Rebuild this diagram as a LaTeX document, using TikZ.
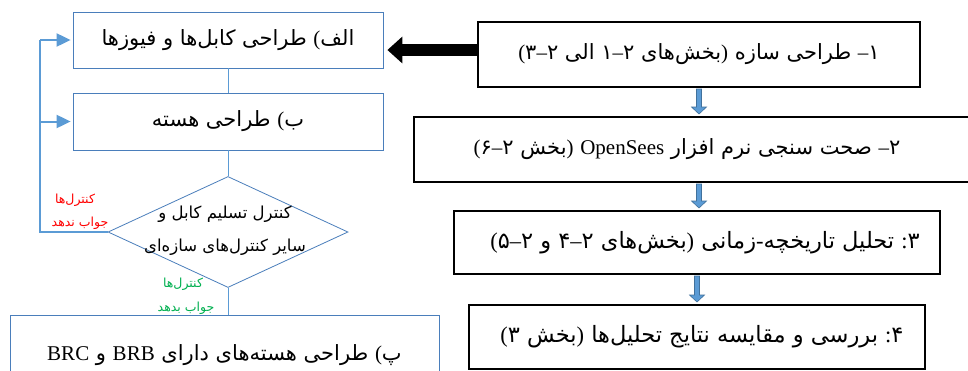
\documentclass[tikz,border=0pt]{standalone}
\usepackage{fontspec}
\setmainfont{Liberation Serif}
\newfontfamily\fa[Script=Arabic]{DejaVu Sans}
\usetikzlibrary{arrows.meta,shapes.geometric,calc}
\TeXXeTstate=1
\definecolor{boxblue}{HTML}{4A7EBB}
\definecolor{lineblue}{HTML}{5B9BD5}
\definecolor{arrdark}{HTML}{41719C}
\definecolor{yesgreen}{HTML}{00B050}
\definecolor{nored}{HTML}{FF0000}
\newcommand\LPg{\hbox{\rmfamily(}}
\newcommand\RPg{\hbox{\rmfamily)}}
\newcommand\pn[2]{\hbox{\fa #1\rmfamily--\fa #2}}
\newcommand\mainsz{\fontsize{21}{25}\selectfont}
\newcommand\bigsz{\fontsize{22.5}{27}\selectfont}
\newcommand\diasz{\fontsize{16.5}{33}\selectfont}
\newcommand\smallsz{\fontsize{12.5}{14}\selectfont}
\newcommand\blockdown[2]{%
  \path[draw=arrdark, fill=lineblue, line width=0.6pt]
    let \p1=(#1), \p2=(#2) in
    (\x1-2.5pt,\y1-1pt) -- (\x1+2.5pt,\y1-1pt) -- (\x1+2.5pt,\y2+9pt)
    -- (\x1+7.5pt,\y2+9pt) -- (\x1,\y2+2pt) -- (\x1-7.5pt,\y2+9pt)
    -- (\x1-2.5pt,\y2+9pt) -- cycle;}
\tikzset{
  lbox/.style={draw=boxblue, line width=0.8pt, rectangle, inner sep=0pt, font=\mainsz\fa},
  rbox/.style={draw=black, line width=2pt, rectangle, inner sep=0pt, font=\mainsz\fa},
  thinconn/.style={draw=lineblue, line width=1pt},
  fbline/.style={draw=lineblue, line width=2pt},
  fbarrow/.style={draw=lineblue, line width=2pt, -{Triangle[length=14pt,width=13pt]}, shorten >=2pt},
  bigarrow/.style={draw=black, line width=12pt, -{Triangle[length=15pt,width=26pt]}, shorten >=4pt},
  notext/.style={font=\smallsz\fa, text=nored, inner sep=0pt},
  yestext/.style={font=\smallsz\fa, text=yesgreen, inner sep=0pt}
}
\begin{document}
\begin{tikzpicture}[x=1pt,y=-1pt]
\useasboundingbox (0,0) rectangle (968,370);
\clip (0,0) rectangle (968,370);
\fill[white] (0,0) rectangle (968,370);
% left column
\node[lbox, minimum width=310pt, minimum height=56pt] (A) at (228,40)
  {\beginR الف\LPg\ طراحی کابل‌ها و فیوزها\endR};
\node[lbox, minimum width=310pt, minimum height=57pt] (B) at (228,121.5)
  {\beginR ب\LPg\ طراحی هسته\endR};
\node[diamond, draw=boxblue, line width=0.8pt, minimum width=240pt, minimum height=111pt, inner sep=0pt] (D) at (228,232) {};
\node[font=\diasz\fa, align=center, inner sep=0pt] (Dt) at (225,231)
  {\beginR کنترل تسلیم کابل و\endR\\\beginR سایر کنترل‌های سازه‌ای\endR};
\node[lbox, minimum width=429pt, minimum height=80pt] (P) at (224.5,355)
  {\beginR پ\LPg\ طراحی هسته‌های دارای \hbox{\rmfamily BRB} و \hbox{\rmfamily BRC}\endR};
% connectors left
\draw[thinconn] (A.south) -- (B.north);
\draw[thinconn] (B.south) -- (D.north);
\draw[thinconn] (D.south) -- (D.south |- P.north);
\coordinate (fbx) at (40,0);
\draw[fbline] (D.west) -- (D.west -| fbx) -- (A.west -| fbx);
\draw[fbarrow] (A.west -| fbx) -- (A.west);
\draw[fbarrow] (B.west -| fbx) -- (B.west);
% condition labels
\node[notext] (n1) at (75,200) {\beginR کنترل‌ها\endR};
\node[notext] (n2) at (80,223) {\beginR جواب ندهد\endR};
\node[yestext] (y1) at (183,284) {\beginR کنترل‌ها\endR};
\node[yestext] (y2) at (186,308) {\beginR جواب بدهد\endR};
% right column
\node[rbox, minimum width=442pt, minimum height=65pt] (b1) at (699,54.5)
  {\beginR\hbox{\fa ۱}\hbox{\rmfamily--} طراحی سازه \RPg بخش‌های \pn{۲}{۱} الی \pn{۲}{۳}\LPg\endR};
\node[rbox, minimum width=570pt, minimum height=65pt] (b2) at (699,149.5)
  {\beginR\hbox{\fa ۲}\hbox{\rmfamily--} صحت سنجی نرم افزار \hbox{\rmfamily OpenSees} \RPg بخش \pn{۲}{۶}\LPg\endR\kern24pt};
\node[rbox, font=\bigsz\fa, minimum width=486pt, minimum height=63pt] (b3) at (697,242.5)
  {\kern16pt\beginR\hbox{\fa ۳}\hbox{\rmfamily:} تحلیل تاریخچه\hbox{\rmfamily-}زمانی \RPg بخش‌های \pn{۲}{۴} و \pn{۲}{۵}\LPg\endR};
\node[rbox, font=\bigsz\fa, minimum width=456pt, minimum height=64pt] (b4) at (697,337)
  {\kern10pt\beginR\hbox{\fa ۴}\hbox{\rmfamily:} بررسی و مقایسه نتایج تحلیل‌ها \RPg بخش ۳\LPg\endR};
% right arrows
\coordinate (bl) at ([yshift=4.5pt]b1.west);
\draw[bigarrow] (bl) -- (bl -| A.east);
\blockdown{b1.south}{b2.north}
\blockdown{b2.south}{b3.north}
\blockdown{b3.south}{b4.north}
\end{tikzpicture}
\end{document}
